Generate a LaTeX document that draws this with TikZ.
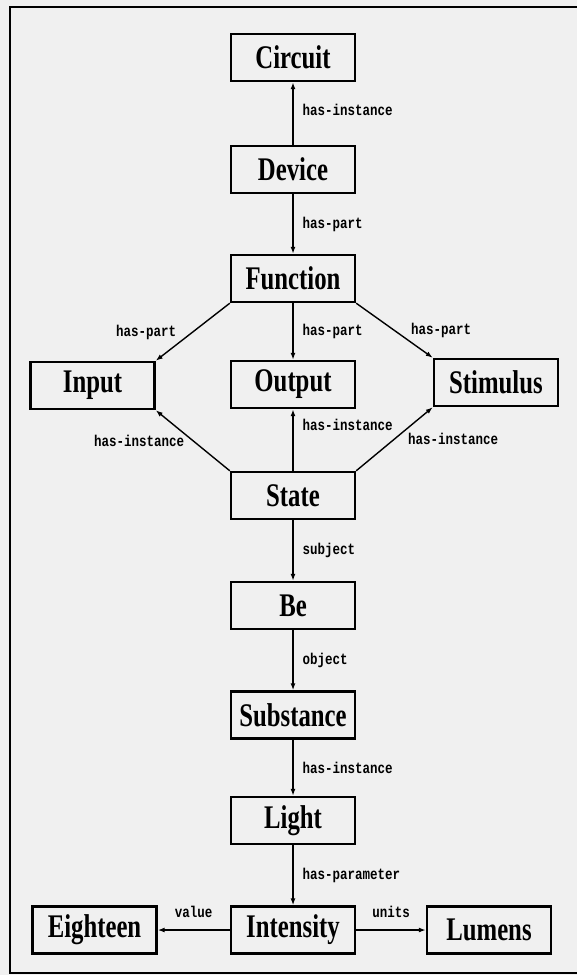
\documentclass[tikz,border=0pt]{standalone}
\usepackage{fontspec}
\setmainfont{Liberation Serif}
\setmonofont{Liberation Mono}
\usetikzlibrary{arrows.meta}
\newcommand{\ent}[1]{\scalebox{0.75}[1]{#1}}
\newcommand{\rtext}[1]{\scalebox{1}[1.25]{#1}}
\begin{document}
\begin{tikzpicture}[x=1pt,y=-1pt,
  box/.style={draw,line width=2.4pt,minimum width=124pt,minimum height=47pt,inner sep=0pt,font=\fontsize{33}{33}\selectfont\bfseries},
  rel/.style={line width=1.4pt,-{Latex[length=7pt,width=5pt]}},
  lbl/.style={font=\fontsize{12.5}{13}\selectfont\ttfamily\bfseries,inner sep=1pt}]
\useasboundingbox[fill=black!6] (0,0) rectangle (577,975);
\draw[line width=2pt] (590,7) -- (10,7) -- (10,973) -- (590,973);
% middle column
\node[box] (circuit) at (293,57.5) {\ent{Circuit}};
\node[box] (device) at (293,169.5) {\ent{Device}};
\node[box] (function) at (293,278.5) {\ent{Function}};
\node[box] (output) at (293,384.5) {\ent{Output}};
\node[box] (state) at (293,495.5) {\ent{State}};
\node[box] (be) at (293,605.5) {\ent{Be}};
\node[box] (substance) at (293,715) {\ent{Substance}};
\node[box] (light) at (293,820.5) {\ent{Light}};
\node[box] (intensity) at (293,930) {\ent{Intensity}};
% sides
\node[box] (input) at (92.5,385.5) {\ent{Input}};
\node[box] (stimulus) at (496,382.5) {\ent{Stimulus}};
\node[box] (eighteen) at (94.5,930) {\ent{Eighteen}};
\node[box] (lumens) at (489,930) {\ent{Lumens}};
% relations
\draw[rel] (device) -- (circuit) node[lbl,pos=.55,right=8pt] {\rtext{has-instance}};
\draw[rel] (device) -- (function) node[lbl,midway,right=8pt] {\rtext{has-part}};
\draw[rel] (function.south west) -- (input.north east) node[lbl,midway,left=15pt] {\rtext{has-part}};
\draw[rel] (function) -- (output) node[lbl,midway,right=8pt] {\rtext{has-part}};
\draw[rel] (function.south east) -- (stimulus.north west) node[lbl,midway,right=15pt] {\rtext{has-part}};
\draw[rel] (state.north west) -- (input.south east) node[lbl,midway,left=7pt] {\rtext{has-instance}};
\draw[rel] (state) -- (output) node[lbl,pos=.74,right=8pt] {\rtext{has-instance}};
\draw[rel] (state.north east) -- (stimulus.south west) node[lbl,midway,right=12pt] {\rtext{has-instance}};
\draw[rel] (state) -- (be) node[lbl,midway,right=8pt] {\rtext{subject}};
\draw[rel] (be) -- (substance) node[lbl,midway,right=8pt] {\rtext{object}};
\draw[rel] (substance) -- (light) node[lbl,midway,right=8pt] {\rtext{has-instance}};
\draw[rel] (light) -- (intensity) node[lbl,midway,right=8pt] {\rtext{has-parameter}};
\draw[rel] (intensity) -- (eighteen) node[lbl,midway,above=11pt] {\rtext{value}};
\draw[rel] (intensity) -- (lumens) node[lbl,midway,above=11pt] {\rtext{units}};
\end{tikzpicture}
\end{document}
